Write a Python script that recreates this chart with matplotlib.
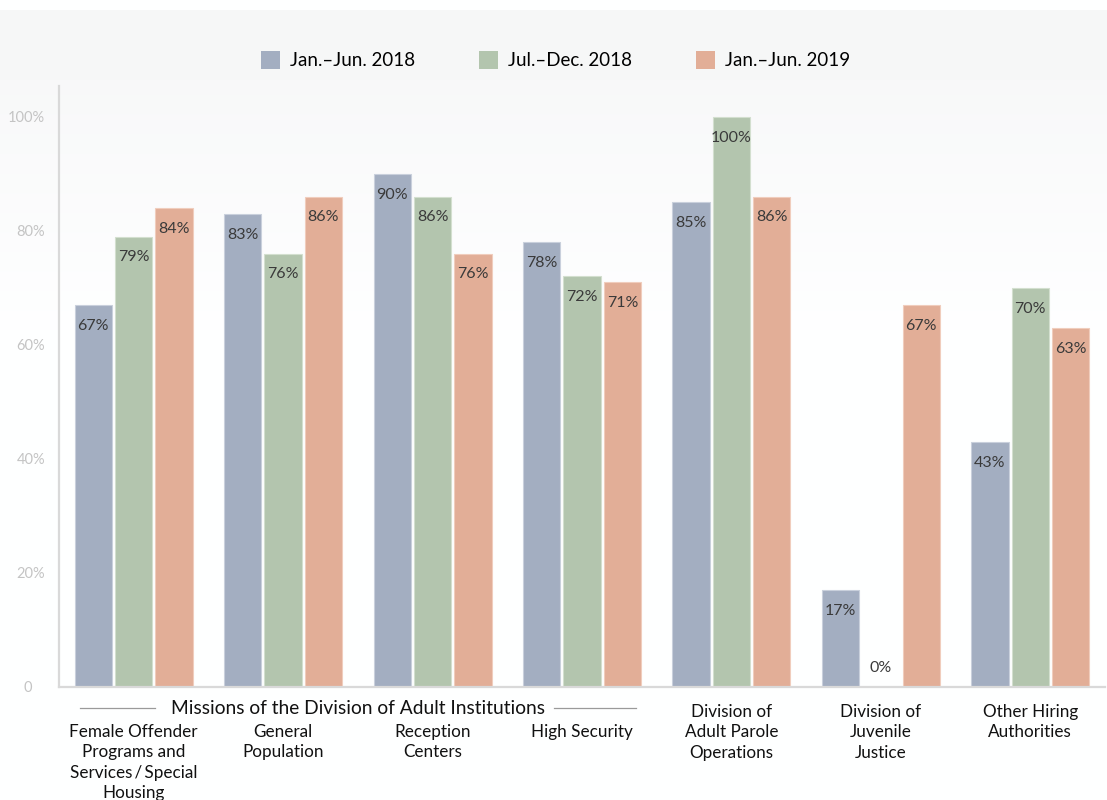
import numpy as np
import matplotlib
matplotlib.use("Agg")
import matplotlib.pyplot as plt
from matplotlib.patches import Patch
from matplotlib.transforms import ScaledTranslation, blended_transform_factory

plt.rcParams['font.family'] = ['Lato', 'DejaVu Sans']

# ---- data -------------------------------------------------------------
categories = [
    "Female Offender\nPrograms and\nServices\u2009/\u2009Special\nHousing",
    "General\nPopulation",
    "Reception\nCenters",
    "High Security",
    "Division of\nAdult Parole\nOperations",
    "Division of\nJuvenile\nJustice",
    "Other Hiring\nAuthorities",
]
series_names = ["Jan.\u2013Jun. 2018", "Jul.\u2013Dec. 2018", "Jan.\u2013Jun. 2019"]
jan_jun_2018 = [67, 83, 90, 78, 85, 17, 43]
jul_dec_2018 = [79, 76, 86, 72, 100, 0, 70]
jan_jun_2019 = [84, 86, 76, 71, 86, 67, 63]
group_label = "Missions of the Division of Adult Institutions"
yticks = [0, 20, 40, 60, 80, 100]
ytick_labels = ["0", "20%", "40%", "60%", "80%", "100%"]

colors = ["#a3aec1", "#b3c5ae", "#e2ae97"]
edge_colors = ["#c9d0dc", "#d3dfcf", "#f0cdbd"]

# ---- figure -----------------------------------------------------------
W, H = 1107, 800
fig = plt.figure(figsize=(W / 100, H / 100), dpi=100)

# soft background wash behind the legend and upper plot area
bg = fig.add_axes([0, 0, 1, 1], zorder=-10)
bg.axis("off")
rows = np.arange(H)
shade = np.ones(H)
top, flat_end, fade_end = 10, 80, 330
shade[(rows >= top) & (rows < flat_end)] = 0.969
mask = (rows >= flat_end) & (rows < fade_end)
t = (rows[mask] - flat_end) / (fade_end - flat_end)
shade[mask] = 0.975 + (1 - 0.975) * t
img = np.ones((H, 1, 3))
img[:, 0, 0] = shade - 0.002
img[:, 0, 1] = shade
img[:, 0, 2] = shade + 0.002
img = np.clip(img, 0, 1)
bg.imshow(img, aspect="auto", extent=[0, 1, 0, 1], origin="upper")
bg.set_xlim(0, 1)
bg.set_ylim(0, 1)

left_px, right_px, base_px, top_px = 59, 1105, 687, 86
ax = fig.add_axes([left_px / W, (H - base_px) / H,
                   (right_px - left_px) / W, (base_px - top_px) / H])
ax.set_facecolor("none")

x = np.arange(len(categories))
width = 0.25
step = 0.27
all_series = [jan_jun_2018, jul_dec_2018, jan_jun_2019]
for i, vals in enumerate(all_series):
    pos = x + (i - 1) * step
    ax.bar(pos, vals, width=width, color=colors[i], edgecolor=edge_colors[i],
           linewidth=0.8, label=series_names[i], zorder=2)
    for xp, v in zip(pos, vals):
        ax.annotate(f"{v}%", (xp, v), xytext=(0, -15 if v > 0 else 14),
                    textcoords="offset points", ha="center", va="center",
                    fontsize=11.5, color="#3a3a3a", zorder=3)

ax.set_xlim(-0.5, len(categories) - 0.5)
ax.set_ylim(0, 105.4)
ax.set_yticks(yticks)
ax.set_yticklabels(ytick_labels)
ax.tick_params(axis="y", length=0, pad=10, labelsize=10.5, labelcolor="#c4c4c4")
ax.tick_params(axis="x", length=0, labelbottom=False)
# the bare zero sits where the digits of the other labels sit
zero_lbl = ax.get_yticklabels()[0]
zero_lbl.set_transform(zero_lbl.get_transform() +
                       ScaledTranslation(-13 / 100, 0, fig.dpi_scale_trans))

for side in ("top", "right"):
    ax.spines[side].set_visible(False)
for side in ("left", "bottom"):
    ax.spines[side].set_color("#d9d9d9")
    ax.spines[side].set_linewidth(1.6)

# category labels under the axis
blend = blended_transform_factory(ax.transData, fig.transFigure)
for i, lab in enumerate(categories):
    ytop = 724 if i < 4 else 704
    ax.text(x[i], (H - ytop) / H, lab, transform=blend,
            ha="center", va="top", fontsize=12.3, linespacing=1.34,
            color="#111111")

gy = (H - 708) / H
ax.text(1.5, gy, group_label, transform=blend, ha="center", va="center",
        fontsize=13.8, color="#111111")
ax.plot([-0.36, 0.14], [gy, gy], transform=blend, color="#9a9a9a", lw=0.9,
        clip_on=False)
ax.plot([2.81, 3.36], [gy, gy], transform=blend, color="#9a9a9a", lw=0.9,
        clip_on=False)

handles = [Patch(facecolor=c, edgecolor="none") for c in colors]
fig.legend(handles, series_names, loc="center", bbox_to_anchor=(0.502, 0.925),
           ncol=3, frameon=False, fontsize=13.5, handlelength=1.0,
           handleheight=1.1, handletextpad=0.55, columnspacing=3.4)

fig.savefig("out.png", dpi=100)
